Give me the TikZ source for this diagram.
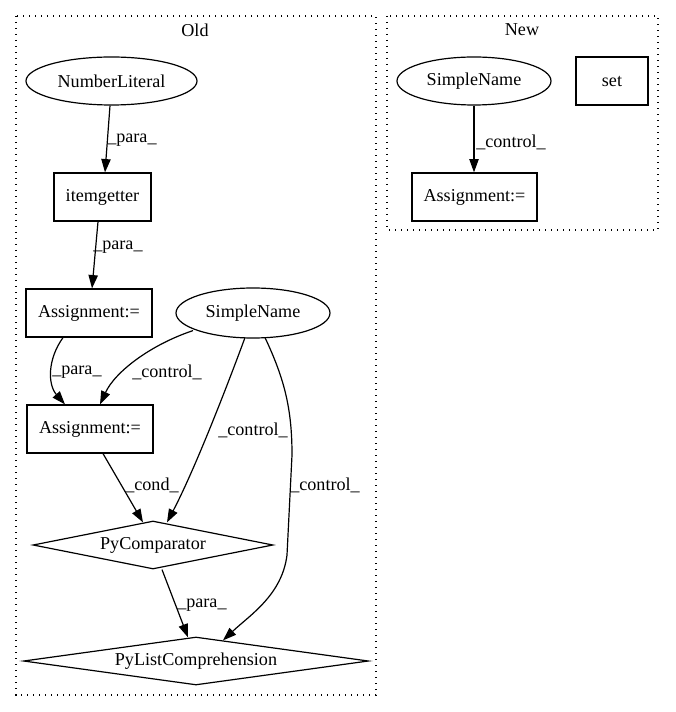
\documentclass[tikz,border=0pt]{standalone}
\usepackage{fontspec}
\setmainfont{Liberation Serif}
\usetikzlibrary{shapes.geometric,arrows.meta,calc}
\tikzset{
  every node/.style={font=\fontsize{13.6}{16}\selectfont, inner sep=0pt},
  ell/.style={draw, ellipse, line width=0.9pt},
  box/.style={draw, rectangle, line width=0.9pt},
  dia/.style={draw, diamond, line width=0.9pt},
  edge/.style={-{Triangle[length=10pt,width=7pt]}, line width=0.9pt},
  elab/.style={anchor=west},
  sz/.style 2 args={minimum width=#1*0.75pt, minimum height=#2*0.75pt},
  cluster/.style={line width=0.9pt, dash pattern=on 1pt off 3.5pt}
}
\begin{document}
\begin{tikzpicture}[x=0.75pt,y=-0.75pt]
\useasboundingbox (0,0) rectangle (675,712);
% clusters
\draw[cluster] (16,16) rectangle (376,695);
\node (told) at (195,30) {Old};
\draw[cluster] (387,16) rectangle (658,230);
\node (tnew) at (522,30) {New};
% Old nodes
\node[ell, sz={171}{48}] (nl) at (111.5,81) {NumberLiteral};
\node[box, sz={97}{48}] (ig) at (102.5,197) {itemgetter};
\node[box, sz={126}{48}] (a1) at (89,313) {Assignment:=};
\node[ell, sz={154}{50}] (sn) at (253,313) {SimpleName};
\node[box, sz={126}{48}] (a2) at (90,429) {Assignment:=};
\node[dia, shape aspect=5, sz={240}{48}] (pyc) at (153,545) {PyComparator};
\node[dia, shape aspect=7.2, sz={345}{48}] (pylc) at (196,661) {PyListComprehension};
% New nodes
\node[ell, sz={154}{48}] (sn2) at (474,81) {SimpleName};
\node[box, sz={72}{48}] (set) at (612,81) {set};
\node[box, sz={125}{48}] (a3) at (474.5,197) {Assignment:=};
% Old edges
\draw[edge] ($(nl.south)+(-1.5,0)$) -- ($(ig.north)+(2.5,0)$);
\node[elab] (l1) at (107,140) {\_para\_};
\draw[edge] ($(ig.south)+(-4.5,0)$) -- ($(a1.north)+(3,0)$);
\node[elab] (l2) at (93,247) {\_para\_};
\draw[edge] ($(a1.south)+(-26,0)$) .. controls (47,360) and (48,385) .. ($(a2.north)+(-25,0)$);
\node[elab] (l3) at (52,372) {\_para\_};
\draw[edge] ($(sn.south)+(-60,-8)$) .. controls (150,345) and (115,372) .. ($(a2.north)+(10,0)$);
\node[elab] (l4) at (132,372) {\_control\_};
\draw[edge] ($(sn.south)+(-8,-1)$) .. controls (222,400) and (192,475) .. ($(pyc.north)+(14,2)$);
\node[elab] (l5) at (218,430) {\_control\_};
\draw[edge] ($(sn.south)+(12,-1)$) .. controls (285,380) and (292,410) .. (292,455)
  -- (287,555) .. controls (282,595) and (250,615) .. ($(pylc.north)+(27,4)$);
\node[elab] (l6) at (290,485) {\_control\_};
\draw[edge] ($(a2.south)+(13,0)$) -- ($(pyc.north)+(-10,2)$);
\node[elab] (l7) at (125,485) {\_cond\_};
\draw[edge] ($(pyc.south)+(9,0)$) -- ($(pylc.north)+(-8,1)$);
\node[elab] (l8) at (177,605) {\_para\_};
% New edges
\draw[edge] (sn2.south) -- (a3.north -| sn2.south);
\node[elab] (l9) at (476,142) {\_control\_};
\end{tikzpicture}
\end{document}
